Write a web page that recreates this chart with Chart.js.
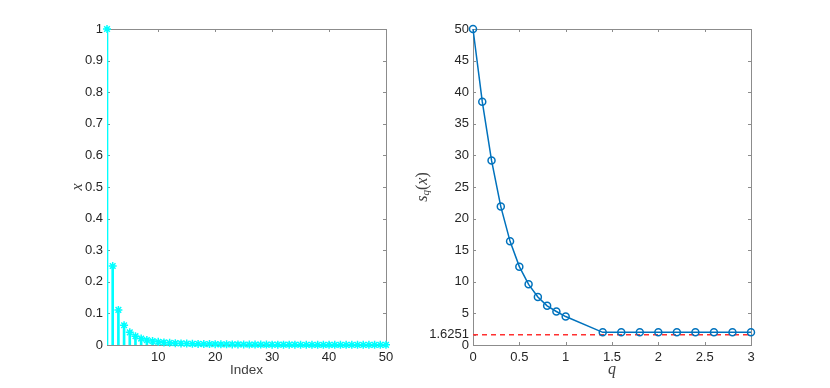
<!DOCTYPE html>
<html>
<head>
<meta charset="utf-8">
<script src="https://cdn.jsdelivr.net/npm/chart.js@4"></script>
<style>
    body { margin: 0; background: #fff; }
    .panel { position: absolute; top: 0; width: 415px; height: 388px; }
    #leftPanel { left: 0; }
    #rightPanel { left: 415px; }
</style>
</head>
<body>
<div class="panel" id="leftPanel"><canvas id="stemChart"></canvas></div>
<div class="panel" id="rightPanel"><canvas id="sparsityChart"></canvas></div>
<script>
// Left panel: stem plot of x against Index
const indexValues = [1, 2, 3, 4, 5, 6, 7, 8, 9, 10, 11, 12, 13, 14, 15, 16, 17, 18, 19, 20,
    21, 22, 23, 24, 25, 26, 27, 28, 29, 30, 31, 32, 33, 34, 35, 36, 37, 38, 39, 40,
    41, 42, 43, 44, 45, 46, 47, 48, 49, 50];
const xValues = [1, 0.25, 0.1111, 0.0625, 0.04, 0.0278, 0.0204, 0.0156, 0.0123, 0.01,
    0.0083, 0.0069, 0.0059, 0.0051, 0.0044, 0.0039, 0.0035, 0.0031, 0.0028, 0.0025,
    0.0023, 0.0021, 0.0019, 0.0017, 0.0016, 0.0015, 0.0014, 0.0013, 0.0012, 0.0011,
    0.001, 0.001, 0.0009, 0.0009, 0.0008, 0.0008, 0.0007, 0.0007, 0.0007, 0.0006,
    0.0006, 0.0006, 0.0005, 0.0005, 0.0005, 0.0005, 0.0005, 0.0004, 0.0004, 0.0004];
const indexTicks = [10, 20, 30, 40, 50];
const xTicks = [0, 0.1, 0.2, 0.3, 0.4, 0.5, 0.6, 0.7, 0.8, 0.9, 1];

// Right panel: s_q(x) against q
const qValues = [0, 0.1, 0.2, 0.3, 0.4, 0.5, 0.6, 0.7, 0.8, 0.9, 1, 1.4, 1.6, 1.8, 2, 2.2, 2.4, 2.6, 2.8, 3];
const sValues = [50, 38.5, 29.2, 21.9, 16.4, 12.4, 9.6, 7.6, 6.2, 5.3, 4.5, 2.0, 2.0, 2.0, 2.0, 2.0, 2.0, 2.0, 2.0, 2.0];
const boundValue = 1.6251;
const boundRange = [0, 3];
const qTicks = [0, 0.5, 1, 1.5, 2, 2.5, 3];
const sTicks = [0, 1.6251, 5, 10, 15, 20, 25, 30, 35, 40, 45, 50];

const tickFont = { family: "'Liberation Sans', Arial, sans-serif", size: 13 };
const textColor = '#262626';
const boxColor = '#8c8c8c';
const mathFont = "'Liberation Serif', 'DejaVu Serif', serif";

// box around the axes with inward ticks on all four sides, plus the axis titles
const matlabAxes = {
    id: 'matlabAxes',
    beforeDatasetsDraw(chart, args, opts) {
        const a = chart.chartArea;
        const ctx = chart.ctx;
        ctx.save();
        ctx.strokeStyle = boxColor;
        ctx.lineWidth = 1;
        ctx.strokeRect(Math.round(a.left) + 0.5, Math.round(a.top) + 0.5,
            Math.round(a.right - a.left), Math.round(a.bottom - a.top));
        const len = 3;
        ctx.beginPath();
        chart.scales.x.ticks.forEach(t => {
            const px = Math.round(chart.scales.x.getPixelForValue(t.value)) + 0.5;
            ctx.moveTo(px, a.bottom); ctx.lineTo(px, a.bottom - len);
            ctx.moveTo(px, a.top); ctx.lineTo(px, a.top + len);
        });
        chart.scales.y.ticks.forEach(t => {
            const py = Math.round(chart.scales.y.getPixelForValue(t.value)) + 0.5;
            ctx.moveTo(a.left, py); ctx.lineTo(a.left + len, py);
            ctx.moveTo(a.right, py); ctx.lineTo(a.right - len, py);
        });
        ctx.stroke();
        ctx.restore();
    },
    afterDraw(chart, args, opts) {
        const a = chart.chartArea;
        const ctx = chart.ctx;
        ctx.save();
        ctx.fillStyle = '#404040';
        ctx.textAlign = 'center';
        ctx.textBaseline = 'middle';
        const cx = (a.left + a.right) / 2;
        const cy = (a.top + a.bottom) / 2;
        if (opts.xTitleItalic) {
            ctx.font = 'italic 16px ' + mathFont;
        } else {
            ctx.font = "13.5px 'Liberation Sans', Arial, sans-serif";
        }
        ctx.fillText(opts.xTitle, cx, a.bottom + 25);

        ctx.translate(a.left - opts.yTitleGap, cy);
        ctx.rotate(-Math.PI / 2);
        if (opts.ySubscript) {
            // s_q(x) written piece by piece
            const parts = [
                { t: 's', f: 'italic 16px ' + mathFont, dy: 0 },
                { t: 'q', f: 'italic 11px ' + mathFont, dy: 3.5 },
                { t: '(', f: '16px ' + mathFont, dy: 0 },
                { t: 'x', f: 'italic 16px ' + mathFont, dy: 0 },
                { t: ')', f: '16px ' + mathFont, dy: 0 }
            ];
            let total = 0;
            parts.forEach(p => { ctx.font = p.f; p.w = ctx.measureText(p.t).width; total += p.w; });
            let x = -total / 2;
            ctx.textAlign = 'left';
            parts.forEach(p => { ctx.font = p.f; ctx.fillText(p.t, x, p.dy); x += p.w; });
        } else {
            ctx.font = 'italic 16px ' + mathFont;
            ctx.fillText(opts.yTitle, 0, 0);
        }
        ctx.restore();
    }
};

function fixedTicks(values) {
    return function (scale) {
        scale.ticks = values.map(v => ({ value: v }));
    };
}

// 1. Stem plot
(function () {
    const ctx = document.getElementById('stemChart').getContext('2d');
    const points = indexValues.map((v, i) => ({ x: v, y: xValues[i] }));
    new Chart(ctx, {
        type: 'bar',
        data: {
            datasets: [{
                type: 'scatter',
                data: points,
                pointStyle: 'star',
                pointRadius: 4,
                pointBorderWidth: 1.5,
                borderColor: '#00ffff',
                backgroundColor: '#00ffff',
                clip: false
            }, {
                type: 'bar',
                data: points,
                backgroundColor: '#00ffff',
                barThickness: 2,
                borderWidth: 0
            }]
        },
        options: {
            responsive: true,
            maintainAspectRatio: false,
            animation: false,
            layout: { padding: { top: 29, right: 29, left: 0, bottom: 0 } },
            plugins: {
                legend: { display: false },
                tooltip: { enabled: false },
                matlabAxes: { xTitle: 'Index', yTitle: 'x', yTitleGap: 29 }
            },
            scales: {
                x: {
                    type: 'linear',
                    min: 1,
                    max: 50,
                    offset: false,
                    grid: { display: false, drawTicks: false, offset: false },
                    border: { display: false },
                    afterBuildTicks: fixedTicks(indexTicks),
                    afterFit: function (scale) { scale.height = 43; },
                    ticks: { font: tickFont, color: textColor, padding: 5, maxRotation: 0 }
                },
                y: {
                    min: 0,
                    max: 1,
                    grid: { display: false, drawTicks: false },
                    border: { display: false },
                    afterBuildTicks: fixedTicks(xTicks),
                    afterFit: function (scale) { scale.width = 107; },
                    ticks: {
                        font: tickFont, color: textColor, padding: 4,
                        callback: function (value) { return String(value); }
                    }
                }
            }
        },
        plugins: [matlabAxes]
    });
})();

// 2. s_q(x) curve
(function () {
    const ctx = document.getElementById('sparsityChart').getContext('2d');
    new Chart(ctx, {
        type: 'scatter',
        data: {
            datasets: [{
                data: qValues.map((q, i) => ({ x: q, y: sValues[i] })),
                showLine: true,
                borderColor: '#0072bd',
                borderWidth: 1.5,
                pointStyle: 'circle',
                pointRadius: 3.5,
                pointBorderWidth: 1.5,
                pointBorderColor: '#0072bd',
                pointBackgroundColor: 'rgba(0,0,0,0)',
                clip: false
            }, {
                data: boundRange.map(q => ({ x: q, y: boundValue })),
                showLine: true,
                borderColor: '#ff3030',
                borderWidth: 1.5,
                borderDash: [5, 4],
                pointRadius: 0
            }]
        },
        options: {
            responsive: true,
            maintainAspectRatio: false,
            animation: false,
            layout: { padding: { top: 29, right: 79, left: 0, bottom: 0 } },
            plugins: {
                legend: { display: false },
                tooltip: { enabled: false },
                matlabAxes: { xTitle: 'q', xTitleItalic: true, ySubscript: true, yTitleGap: 50 }
            },
            scales: {
                x: {
                    type: 'linear',
                    min: 0,
                    max: 3,
                    grid: { display: false, drawTicks: false },
                    border: { display: false },
                    afterBuildTicks: fixedTicks(qTicks),
                    afterFit: function (scale) { scale.height = 43; },
                    ticks: {
                        font: tickFont, color: textColor, padding: 5, maxRotation: 0,
                        callback: function (value) { return String(value); }
                    }
                },
                y: {
                    min: 0,
                    max: 50,
                    grid: { display: false, drawTicks: false },
                    border: { display: false },
                    afterBuildTicks: fixedTicks(sTicks),
                    afterFit: function (scale) { scale.width = 58; },
                    ticks: {
                        font: tickFont, color: textColor, padding: 4, autoSkip: false,
                        callback: function (value) { return String(value); }
                    }
                }
            }
        },
        plugins: [matlabAxes]
    });
})();
</script>
</body>
</html>
